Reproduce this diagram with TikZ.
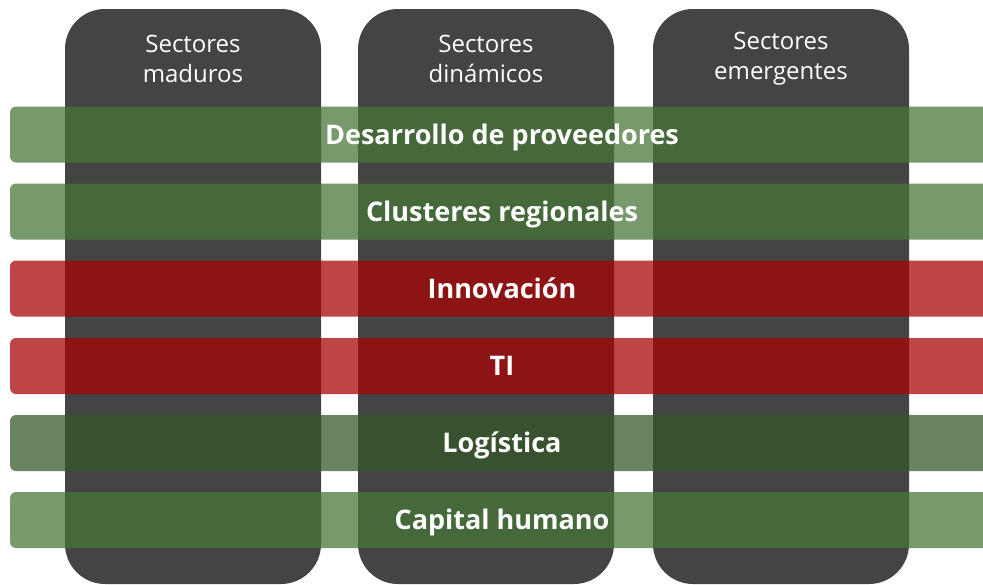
\documentclass[tikz,border=0pt]{standalone}
\usepackage{fontspec}
\setmainfont{Open Sans}
\usepackage{xcolor}

\definecolor{colgris}{RGB}{68,68,68}
\definecolor{verde}{RGB}{71,118,56}
\definecolor{rojo}{RGB}{167,4,4}
\definecolor{verdeosc}{RGB}{52,87,40}

\begin{document}
\begin{tikzpicture}
  [x=1pt,y=-1pt,
   sector/.style={rectangle,rounded corners=40pt,fill=colgris,minimum width=256pt,minimum height=575pt},
   titulo/.style={text=white,align=center,font=\fontsize{24}{30}\selectfont},
   barra/.style={rectangle,rounded corners=6pt,fill=#1,fill opacity=0.74,text opacity=1,text=white,
     font=\bfseries\fontsize{27}{30}\selectfont,text height=19pt,text depth=0pt,
     minimum width=984pt,minimum height=56pt}]
  \useasboundingbox (0,0) rectangle (983,584);
  \clip (0,0) rectangle (983,584);

  \node[sector] (maduros) at (193,296.5) {};
  \node[sector] (dinamicos) at (486,296.5) {};
  \node[sector] (emergentes) at (781,296.5) {};

  \node[titulo] (t1) at (193,59) {Sectores\\maduros};
  \node[titulo] (t2) at (486,59) {Sectores\\dinámicos};
  \node[titulo] (t3) at (781,59) {Sectores\\emergentes};

  \foreach \y/\c/\name/\txt in {134.5/verde/b1/Desarrollo de proveedores,
      211.5/verde/b2/Clusteres regionales,
      288.5/rojo/b3/Innovación,
      366/rojo/b4/TI,
      443/verdeosc/b5/Logística,
      520/verde/b6/Capital humano}
    \node[barra=\c] (\name) at (502,\y) {\txt};

\end{tikzpicture}
\end{document}
